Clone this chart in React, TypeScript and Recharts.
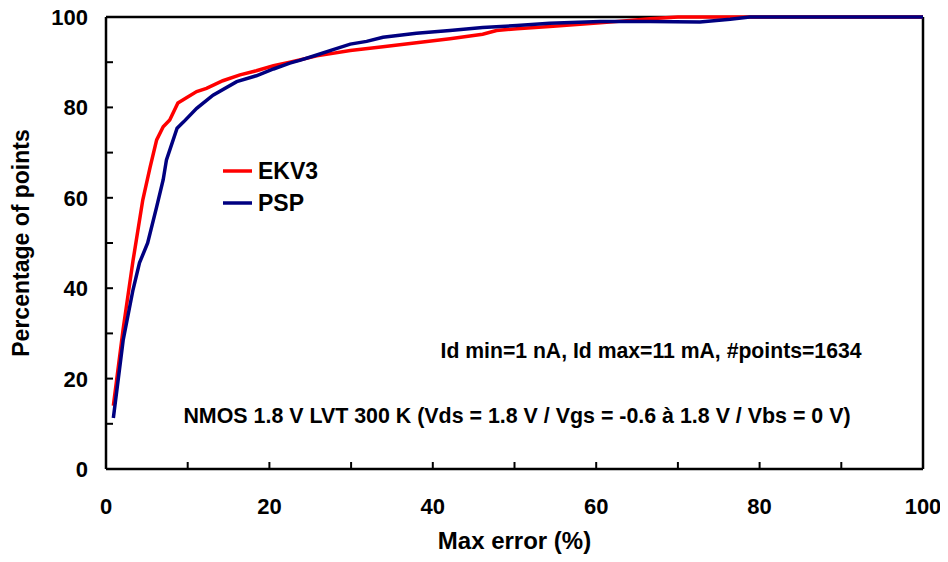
import React from 'react';
import { LineChart, Line, XAxis, YAxis, ReferenceLine, Customized } from 'recharts';

const ekv3Error = [0.9, 2.1, 3.3, 4.5, 5.4, 6.2, 7.0, 7.8, 8.8, 9.9, 11.1, 12.3, 14.3, 16.4, 18.4, 20.5, 22.5, 25.8, 29.9, 33.9, 38, 42.1, 46.1, 47.8, 50.3, 54.3, 60.5, 66.6, 70, 100];
const ekv3Pct = [14, 31, 46, 59.5, 66.8, 72.8, 75.7, 77.2, 81, 82.2, 83.5, 84.2, 85.9, 87.2, 88.1, 89.2, 90, 91.4, 92.6, 93.4, 94.3, 95.2, 96.2, 97.0, 97.4, 97.9, 98.7, 99.6, 100, 100];

const pspError = [0.9, 2.1, 3.3, 4.1, 5.1, 6.2, 7.0, 7.4, 8.7, 9.5, 11.1, 13.1, 16, 18.4, 20.5, 22.5, 23.7, 25.8, 27.8, 29.9, 31.9, 33.9, 38, 42.1, 46.1, 50.3, 54.3, 60.5, 66.6, 72.7, 76.4, 78.8, 100];
const pspPct = [11.3, 28.5, 39.6, 45.6, 50, 58, 64, 68.4, 75.4, 76.8, 79.8, 82.7, 85.7, 87.0, 88.5, 89.8, 90.4, 91.6, 92.8, 94.0, 94.6, 95.5, 96.4, 97.0, 97.7, 98.1, 98.6, 99, 99, 98.9, 99.5, 100, 100];

const xTicks = [0, 10, 20, 30, 40, 50, 60, 70, 80, 90, 100];
const yTicks = [0, 10, 20, 30, 40, 50, 60, 70, 80, 90, 100];

const seriesNames = ['EKV3', 'PSP'];
const seriesColors = ['#FF0000', '#000080'];
const noteLines = [
  'Id min=1 nA, Id max=11 mA, #points=1634',
  'NMOS 1.8 V LVT 300 K (Vds = 1.8 V / Vgs = -0.6 à 1.8 V / Vbs = 0 V)',
];

const ekv3Data = ekv3Error.map((e, i) => ({ err: e, pct: ekv3Pct[i] }));
const pspData = pspError.map((e, i) => ({ err: e, pct: pspPct[i] }));

const FONT = '"Liberation Sans", Arial, Helvetica, sans-serif';

const XTick = (props: any) => {
  const { x, y, payload } = props;
  const v = payload.value;
  return (
    <g>
      <line x1={x} x2={x} y1={y} y2={y - 7} stroke="#000" strokeWidth={2} />
      {v % 20 === 0 && (
        <text x={x} y={y + 45} textAnchor="middle" fontFamily={FONT} fontWeight="bold" fontSize={22} fill="#000">
          {v}
        </text>
      )}
    </g>
  );
};

const YTick = (props: any) => {
  const { x, y, payload } = props;
  const v = payload.value;
  return (
    <g>
      <line x1={x} x2={x + 7} y1={y} y2={y} stroke="#000" strokeWidth={2} />
      {v % 20 === 0 && (
        <text x={x - 18} y={y + 8} textAnchor="end" fontFamily={FONT} fontWeight="bold" fontSize={22} fill="#000">
          {v}
        </text>
      )}
    </g>
  );
};

const XTitle = (props: any) => {
  const vb = props.viewBox || {};
  return (
    <text x={vb.x + vb.width / 2} y={vb.y + 80} textAnchor="middle" fontFamily={FONT} fontWeight="bold" fontSize={24} fill="#000">
      Max error (%)
    </text>
  );
};

const YTitle = (props: any) => {
  const vb = props.viewBox || {};
  const cx = 21;
  const cy = vb.y + vb.height / 2;
  return (
    <text x={cx} y={cy} transform={`rotate(-90, ${cx}, ${cy})`} textAnchor="middle" fontFamily={FONT} fontWeight="bold" fontSize={23} fill="#000">
      Percentage of points
    </text>
  );
};

const Overlay = () => (
  <g fontFamily={FONT} fontWeight="bold" fill="#000">
    {seriesNames.map((n, i) => (
      <g key={n}>
        <line x1={215} x2={244} y1={163 + i * 32} y2={163 + i * 32} stroke={seriesColors[i]} strokeWidth={3.5} />
        <text x={250} y={171 + i * 32} fontSize={23}>{n}</text>
      </g>
    ))}
    <text x={643} y={350} textAnchor="middle" fontSize={21.2}>{noteLines[0]}</text>
    <text x={509} y={415} textAnchor="middle" fontSize={21.4}>{noteLines[1]}</text>
  </g>
);

export default function App() {
  return (
    <LineChart width={932} height={546} margin={{ top: 9, right: 17, bottom: 0, left: 0 }}>
      <XAxis
        type="number"
        dataKey="err"
        domain={[0, 100]}
        ticks={xTicks}
        interval={0}
        tickSize={0}
        tickMargin={0}
        tickLine={false}
        tick={<XTick />}
        height={85}
        axisLine={{ stroke: '#000', strokeWidth: 2.5 }}
        allowDuplicatedCategory={false}
        label={<XTitle />}
      />
      <YAxis
        type="number"
        domain={[0, 100]}
        ticks={yTicks}
        interval={0}
        tickSize={0}
        tickMargin={0}
        tickLine={false}
        tick={<YTick />}
        width={98}
        axisLine={{ stroke: '#000', strokeWidth: 2.5 }}
        label={<YTitle />}
      />
      <ReferenceLine y={100} stroke="#000" strokeWidth={2.5} />
      <ReferenceLine x={100} stroke="#000" strokeWidth={2.5} />
      <Line data={ekv3Data} dataKey="pct" type="linear" stroke={seriesColors[0]} strokeWidth={3.5} dot={false} isAnimationActive={false} />
      <Line data={pspData} dataKey="pct" type="linear" stroke={seriesColors[1]} strokeWidth={3.5} dot={false} isAnimationActive={false} />
      <Customized component={Overlay} />
    </LineChart>
  );
}
